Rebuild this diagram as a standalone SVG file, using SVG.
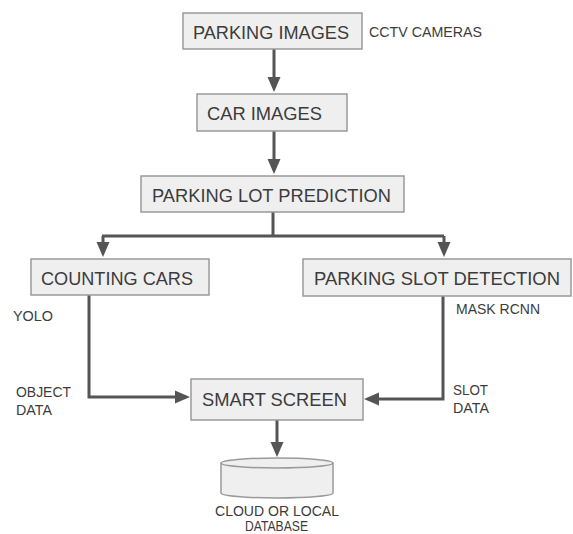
<svg xmlns="http://www.w3.org/2000/svg" width="573" height="534" viewBox="0 0 573 534">
<style>
.box{fill:#efefef;stroke:#9a9a9a;stroke-width:1.5}
.lbl{font-family:"Liberation Sans",Arial,sans-serif;font-size:19px;fill:#3c3c3c}
.sm{font-family:"Liberation Sans",Arial,sans-serif;font-size:14px;fill:#3c3c3c}
.con{fill:none;stroke:#555;stroke-width:3}
</style>
<defs>
<marker id="ah" markerUnits="userSpaceOnUse" markerWidth="16" markerHeight="14" viewBox="0 0 16 14" refX="11" refY="7" orient="auto">
<path d="M0,0.5 L15,7 L0,13.5 z" fill="#555"/>
</marker>
</defs>
<rect width="573" height="534" fill="#fff"/>
<g id="connectors">
<path class="con" d="M274,49 V88" marker-end="url(#ah)"/>
<path class="con" d="M274,131 V170" marker-end="url(#ah)"/>
<path class="con" d="M273,212 V236"/>
<path class="con" d="M102,236 H444"/>
<path class="con" d="M103,236 V253" marker-end="url(#ah)"/>
<path class="con" d="M444,236 V253" marker-end="url(#ah)"/>
<path class="con" d="M89,295 V397 H186" marker-end="url(#ah)"/>
<path class="con" d="M443,296 V399 H368" marker-end="url(#ah)"/>
<path class="con" d="M277,420 V453" marker-end="url(#ah)"/>
</g>
<g id="parking-images">
<rect class="box" x="183" y="13" width="179" height="36"/>
<text class="lbl" x="193" y="39" textLength="156" lengthAdjust="spacingAndGlyphs">PARKING IMAGES</text>
</g>
<g id="cctv-label">
<text class="sm" x="369" y="37" textLength="113" lengthAdjust="spacingAndGlyphs">CCTV CAMERAS</text>
</g>
<g id="car-images">
<rect class="box" x="197" y="94" width="150" height="37"/>
<text class="lbl" x="207" y="120" textLength="115" lengthAdjust="spacingAndGlyphs">CAR IMAGES</text>
</g>
<g id="parking-lot-prediction">
<rect class="box" x="141" y="176" width="263" height="36"/>
<text class="lbl" x="152" y="202" textLength="239" lengthAdjust="spacingAndGlyphs">PARKING LOT PREDICTION</text>
</g>
<g id="counting-cars">
<rect class="box" x="31" y="259" width="178" height="36"/>
<text class="lbl" x="41" y="285" textLength="152" lengthAdjust="spacingAndGlyphs">COUNTING CARS</text>
</g>
<g id="parking-slot-detection">
<rect class="box" x="303" y="259" width="268" height="37"/>
<text class="lbl" x="314" y="285" textLength="246" lengthAdjust="spacingAndGlyphs">PARKING SLOT DETECTION</text>
</g>
<g id="side-labels">
<text class="sm" x="13" y="321" textLength="40" lengthAdjust="spacingAndGlyphs">YOLO</text>
<text class="sm" x="456" y="314" textLength="84" lengthAdjust="spacingAndGlyphs">MASK RCNN</text>
<text class="sm" x="16" y="397" textLength="55" lengthAdjust="spacingAndGlyphs">OBJECT</text>
<text class="sm" x="16" y="415" textLength="36" lengthAdjust="spacingAndGlyphs">DATA</text>
<text class="sm" x="453" y="395" textLength="35" lengthAdjust="spacingAndGlyphs">SLOT</text>
<text class="sm" x="453" y="413" textLength="36" lengthAdjust="spacingAndGlyphs">DATA</text>
</g>
<g id="smart-screen">
<rect class="box" x="191" y="379" width="172" height="41"/>
<text class="lbl" x="202" y="406" textLength="145" lengthAdjust="spacingAndGlyphs">SMART SCREEN</text>
</g>
<g id="database">
<path class="box" d="M221,463 V493 A56,5 0 0 0 333,493 V463"/>
<ellipse class="box" cx="277" cy="463" rx="56" ry="5"/>
<text class="sm" x="215" y="516" textLength="124" lengthAdjust="spacingAndGlyphs">CLOUD OR LOCAL</text>
<text class="sm" x="245" y="531" textLength="63" lengthAdjust="spacingAndGlyphs">DATABASE</text>
</g>
</svg>
